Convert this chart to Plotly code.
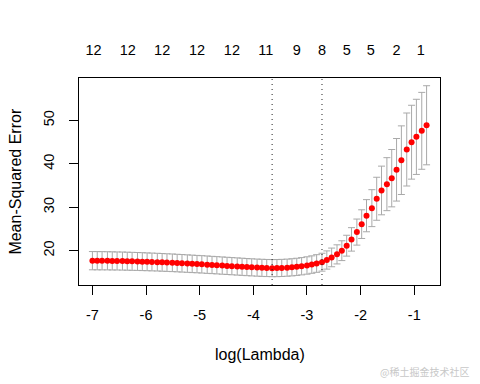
import plotly.graph_objects as go

# log(lambda) grid (ascending)
log_lambda = [-7.00, -6.91, -6.82, -6.72, -6.63, -6.54, -6.44, -6.35, -6.26, -6.16,
              -6.07, -5.98, -5.89, -5.79, -5.70, -5.61, -5.51, -5.42, -5.33, -5.23,
              -5.14, -5.05, -4.96, -4.86, -4.77, -4.68, -4.58, -4.49, -4.40, -4.30,
              -4.21, -4.12, -4.03, -3.93, -3.84, -3.75, -3.65, -3.56, -3.47, -3.37,
              -3.28, -3.19, -3.10, -3.00, -2.91, -2.82, -2.72, -2.63, -2.54, -2.44,
              -2.35, -2.26, -2.17, -2.07, -1.98, -1.89, -1.79, -1.70, -1.61, -1.51,
              -1.42, -1.33, -1.24, -1.14, -1.05, -0.96, -0.86, -0.77]

# mean cross-validated MSE
cvm = [17.70, 17.69, 17.68, 17.67, 17.65, 17.63, 17.61, 17.58, 17.55, 17.52,
       17.48, 17.44, 17.40, 17.36, 17.31, 17.26, 17.21, 17.15, 17.09, 17.03,
       16.97, 16.91, 16.85, 16.78, 16.71, 16.64, 16.57, 16.50, 16.43, 16.36,
       16.29, 16.22, 16.16, 16.10, 16.05, 16.01, 15.98, 15.99, 16.03, 16.09,
       16.17, 16.28, 16.42, 16.59, 16.80, 17.05, 17.35, 17.85, 18.45, 19.15,
       20.00, 21.15, 22.60, 24.28, 26.11, 28.05, 29.79, 31.95, 33.86, 35.31,
       36.69, 38.62, 40.83, 43.29, 44.97, 46.20, 47.59, 48.87]

# standard errors
cvsd = [2.10, 2.10, 2.10, 2.09, 2.09, 2.08, 2.08, 2.07, 2.07, 2.06,
        2.06, 2.05, 2.05, 2.04, 2.04, 2.03, 2.03, 2.02, 2.02, 2.01,
        2.01, 2.00, 2.00, 2.00, 1.99, 1.99, 1.99, 1.98, 1.98, 1.98,
        1.98, 1.97, 1.97, 1.97, 1.97, 1.97, 1.97, 1.97, 1.97, 1.97,
        1.98, 1.98, 1.99, 2.00, 2.01, 2.03, 2.06, 2.10, 2.15, 2.20,
        2.28, 2.40, 2.70, 3.00, 3.30, 3.70, 4.25, 4.95, 5.60, 6.10,
        6.60, 7.20, 7.90, 8.40, 8.50, 8.65, 8.85, 9.10]

# number of non-zero coefficients (top axis)
nzero_pos = [-6.98, -6.34, -5.70, -5.05, -4.40, -3.77, -3.19, -2.72, -2.26, -1.81, -1.33, -0.88]
nzero_lab = ["12", "12", "12", "12", "12", "11", "9", "8", "5", "5", "2", "1"]

x_ticks = [-7, -6, -5, -4, -3, -2, -1]
y_ticks = [20, 30, 40, 50]

lambda_min_log = -3.65
lambda_1se_log = -2.72

x_range = [-7.25, -0.52]
y_range = [12.1, 59.75]

FONT = "Liberation Sans, Arial, sans-serif"
TICK_SIZE = 14.5

fig = go.Figure()
fig.add_trace(go.Scatter(
    x=log_lambda, y=cvm, mode="markers",
    marker=dict(color="#FF0000", size=6, line=dict(width=0)),
    error_y=dict(type="data", array=cvsd, visible=True, color="#A9A9A9",
                 thickness=1, width=3.5),
    showlegend=False, hoverinfo="x+y",
))
# invisible trace to activate the top axis
fig.add_trace(go.Scatter(x=[x_range[0]], y=[y_range[0]], xaxis="x2", mode="markers",
                         marker=dict(opacity=0), showlegend=False, hoverinfo="skip"))

for xv in (lambda_min_log, lambda_1se_log):
    fig.add_shape(type="line", xref="x", yref="paper", x0=xv, x1=xv, y0=0, y1=1,
                  line=dict(color="#222222", width=1, dash="1px,4px"))

fig.update_layout(
    width=472, height=376,
    margin=dict(l=71, r=40, t=70, b=99),
    paper_bgcolor="white", plot_bgcolor="white",
    font=dict(family=FONT, size=14, color="black"),
    xaxis=dict(range=x_range, tickvals=x_ticks, ticktext=[str(v) for v in x_ticks],
               ticks="outside", ticklen=9, tickcolor="black", showline=True,
               linecolor="black", linewidth=1, mirror=True, showgrid=False,
               zeroline=False, tickfont=dict(size=TICK_SIZE), ticklabelstandoff=8),
    xaxis2=dict(range=x_range, overlaying="x", side="top", tickvals=nzero_pos,
                ticktext=nzero_lab, ticks="", showline=False, showgrid=False,
                zeroline=False, tickfont=dict(size=TICK_SIZE), ticklabelstandoff=19),
    yaxis=dict(range=y_range, tickvals=y_ticks, ticktext=[str(v) for v in y_ticks],
               ticks="outside", ticklen=9, tickcolor="black", showline=True,
               linecolor="black", linewidth=1, mirror=True, showgrid=False,
               zeroline=False, tickangle=-90, tickfont=dict(size=TICK_SIZE),
               ticklabelstandoff=9),
    annotations=[
        dict(text="log(Lambda)", xref="paper", yref="paper", x=0.5, y=-0.334,
             xanchor="center", yanchor="middle", showarrow=False,
             font=dict(size=16, family=FONT)),
        dict(text="Mean-Squared Error", xref="paper", yref="paper", x=-0.177, y=0.5,
             xanchor="center", yanchor="middle", textangle=-90, showarrow=False,
             font=dict(size=16, family=FONT)),
        dict(text="@稀土掘金技术社区", xref="paper", yref="paper", x=1.085, y=-0.416,
             xanchor="right", yanchor="middle", showarrow=False,
             font=dict(size=10, family="Noto Sans CJK SC", color="#C8C8C8")),
    ],
)

fig.write_html("out.html")
